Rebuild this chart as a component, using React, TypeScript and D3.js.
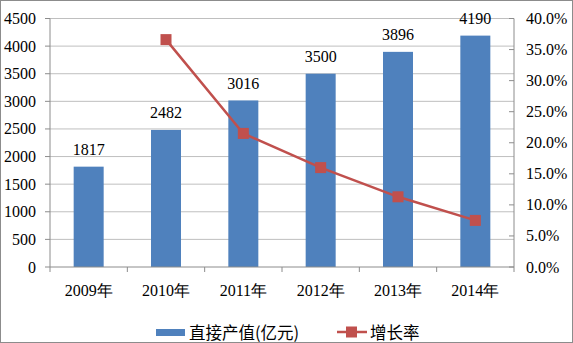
import React from "react";
import * as d3 from "d3";

const categories = ["2009年", "2010年", "2011年", "2012年", "2013年", "2014年"];
const outputValues = [1817, 2482, 3016, 3500, 3896, 4190];
const growthYears = ["2010年", "2011年", "2012年", "2013年", "2014年"];
const growthValues = [0.366, 0.215, 0.16, 0.113, 0.075];
const leftTicks = [0, 500, 1000, 1500, 2000, 2500, 3000, 3500, 4000, 4500];
const rightTicks = [0, 0.05, 0.1, 0.15, 0.2, 0.25, 0.3, 0.35, 0.4];

const W = 573;
const H = 343;
const left = 50;
const right = 514;
const top = 18.5;
const bottom = 267;

const SERIF = "Liberation Serif";
const CJK = "Noto Sans CJK SC";

export default function App() {
  const x = d3.scaleBand<string>().domain(categories).range([left, right]);
  const yL = d3.scaleLinear().domain([0, 4500]).range([bottom, top]);
  const yR = d3.scaleLinear().domain([0, 0.4]).range([bottom, top]);
  const barW = 30;
  const line = d3
    .line<number>()
    .x((_, i) => (x(growthYears[i]) as number) + x.bandwidth() / 2)
    .y((d) => yR(d));
  const fmtPct = d3.format(".1%");

  return (
    <svg
      width={W}
      height={H}
      style={{ position: "absolute", left: 0, top: 0, background: "#fff" }}
    >
      <rect x={0.5} y={0.5} width={W - 1} height={H - 1} fill="#fff" stroke="#8c8c8c" />
      {leftTicks.map((t) => (
        <g key={t}>
          {t > 0 && (
            <line x1={left} x2={right} y1={yL(t)} y2={yL(t)} stroke="#bfbfbf" strokeWidth={1} />
          )}
          <line x1={left - 5} x2={left} y1={yL(t)} y2={yL(t)} stroke="#8c8c8c" />
          <text
            x={36}
            y={yL(t)}
            textAnchor="end"
            dominantBaseline="central"
            fontFamily={SERIF}
            fontSize={16}
            fill="#000"
          >
            {t}
          </text>
        </g>
      ))}
      {rightTicks.map((t) => (
        <g key={t}>
          <line x1={right - 5} x2={right} y1={yR(t)} y2={yR(t)} stroke="#8c8c8c" />
          <text
            x={526}
            y={yR(t)}
            textAnchor="start"
            dominantBaseline="central"
            fontFamily={SERIF}
            fontSize={16}
            fill="#000"
          >
            {fmtPct(t)}
          </text>
        </g>
      ))}
      {categories.map((c, i) => {
        const cx = (x(c) as number) + x.bandwidth() / 2;
        return (
          <g key={c}>
            <rect
              x={cx - barW / 2}
              y={yL(outputValues[i])}
              width={barW}
              height={bottom - yL(outputValues[i])}
              fill="#4F81BD"
            />
            <text
              x={cx}
              y={yL(outputValues[i]) - 17}
              textAnchor="middle"
              dominantBaseline="central"
              fontFamily={SERIF}
              fontSize={16}
              fill="#000"
            >
              {outputValues[i]}
            </text>
            <text
              x={cx}
              y={290}
              textAnchor="middle"
              dominantBaseline="central"
              fontFamily={SERIF}
              fontSize={16}
              fill="#000"
            >
              {c}
            </text>
          </g>
        );
      })}
      {d3.range(categories.length + 1).map((i) => {
        const xx = left + i * x.step();
        return <line key={i} x1={xx} x2={xx} y1={bottom} y2={bottom + 5} stroke="#8c8c8c" />;
      })}
      <line x1={left} x2={left} y1={top} y2={bottom} stroke="#8c8c8c" />
      <line x1={right} x2={right} y1={top} y2={bottom} stroke="#8c8c8c" />
      <line x1={left} x2={right} y1={bottom} y2={bottom} stroke="#8c8c8c" />
      <path d={line(growthValues) || ""} fill="none" stroke="#C0504D" strokeWidth={2.5} />
      {growthValues.map((v, i) => {
        const cx = (x(growthYears[i]) as number) + x.bandwidth() / 2;
        return <rect key={i} x={cx - 5.5} y={yR(v) - 5.5} width={11} height={11} fill="#C0504D" />;
      })}
      <g>
        <rect x={156} y={329} width={29} height={7} fill="#4F81BD" />
        <text x={189} y={331.5} dominantBaseline="central" fontFamily={CJK} fontSize={16.5} fill="#000">
          直接产值(亿元)
        </text>
        <line x1={337} x2={367} y1={332} y2={332} stroke="#C0504D" strokeWidth={2.5} />
        <rect x={346} y={326.5} width={11} height={11} fill="#C0504D" />
        <text x={370} y={331.5} dominantBaseline="central" fontFamily={CJK} fontSize={16.5} fill="#000">
          增长率
        </text>
      </g>
    </svg>
  );
}
